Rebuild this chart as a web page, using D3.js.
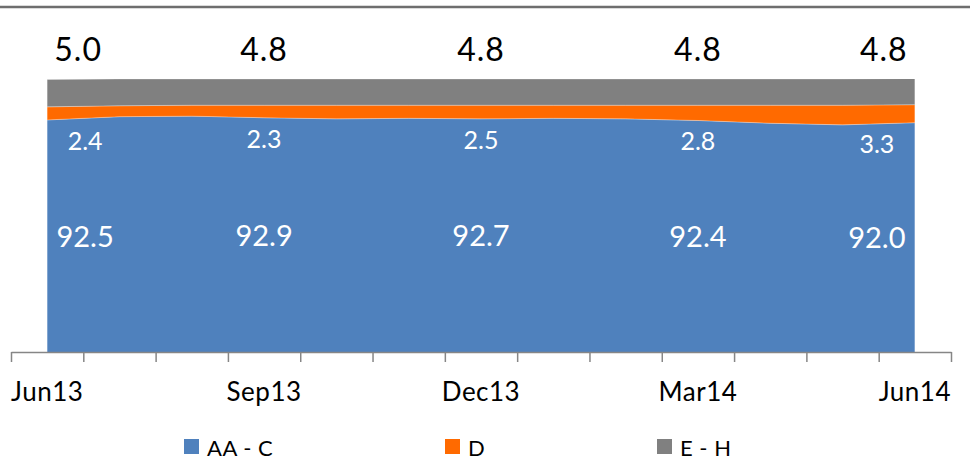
<!DOCTYPE html>
<html>
<head>
<meta charset="utf-8">
<script src="https://cdn.jsdelivr.net/npm/d3@7"></script>
<style>
  body { margin: 0; background: #fff; }
  svg { display: block; font-family: Lato, "Open Sans", sans-serif; }
</style>
</head>
<body>
<svg id="chart" width="970" height="469"></svg>
<script>
// monthly values (labels only shown each quarter)
const months = ["Jun13", "Jul13", "Aug13", "Sep13", "Oct13", "Nov13", "Dec13",
  "Jan14", "Feb14", "Mar14", "Apr14", "May14", "Jun14"];
const aaC = [92.5, 93.1, 93.2, 92.9, 92.7, 92.8, 92.7, 92.8, 92.7, 92.4, 91.9, 91.6, 92.0];
const gradeD = [2.4, 2.0, 2.0, 2.3, 2.5, 2.4, 2.5, 2.4, 2.5, 2.8, 3.3, 3.6, 3.3];
const eH = [5.0, 4.9, 4.8, 4.8, 4.8, 4.8, 4.8, 4.8, 4.8, 4.8, 4.8, 4.8, 4.8];
const tickLabels = ["Jun13", "Sep13", "Dec13", "Mar14", "Jun14"];
const seriesNames = ["AA - C", "D", "E - H"];
const colors = ["#4f81bd", "#ff6a00", "#808080"];

const svg = d3.select("#chart");

const plotLeft = 11, plotRight = 951, plotTop = 79, plotBottom = 352;

var x = d3.scaleBand().domain(months).range([plotLeft, plotRight]).paddingInner(0).paddingOuter(0);
var cx = function (m) { return x(m) + x.bandwidth() / 2; };
var y = d3.scaleLinear().domain([50, 100]).range([plotBottom, plotTop]);

// top rule
svg.append("line")
  .attr("x1", 0).attr("x2", 970)
  .attr("y1", 7).attr("y2", 7)
  .attr("stroke", "#6e6e6e")
  .attr("stroke-width", 2.5);

const table = months.map(function (m, i) {
  return { month: m, "AA - C": aaC[i], "D": gradeD[i], "E - H": eH[i] };
});

var stack = d3.stack().keys(seriesNames);
var layers = stack(table);

svg.append("clipPath").attr("id", "plot")
  .append("rect")
  .attr("x", 0).attr("y", plotTop)
  .attr("width", 970).attr("height", plotBottom - plotTop);

var area = d3.area()
  .x(function (d) { return cx(d.data.month); })
  .y0(function (d) { return y(d[0]); })
  .y1(function (d) { return y(d[1]); });

svg.append("g")
  .attr("clip-path", "url(#plot)")
  .selectAll("path")
  .data(layers)
  .enter()
  .append("path")
  .attr("d", area)
  .attr("fill", function (d, i) { return colors[i]; })
  .attr("stroke", "rgba(255,255,255,0.35)")
  .attr("stroke-width", 0.8);

//------- X AXIS -------
var edge = d3.scaleLinear().domain([0, months.length]).range([plotLeft, plotRight]);

var axisG = svg.append("g")
  .attr("transform", "translate(0," + plotBottom + ")")
  .call(d3.axisBottom(edge)
    .tickValues(d3.range(months.length + 1))
    .tickFormat("")
    .tickSize(10)
    .tickSizeOuter(0));
axisG.select(".domain").attr("stroke", "#868686").attr("stroke-width", 1.5);
axisG.selectAll(".tick line").attr("stroke", "#868686").attr("stroke-width", 1.5);

var labelG = svg.append("g")
  .attr("transform", "translate(0," + plotBottom + ")")
  .call(d3.axisBottom(x).tickValues(tickLabels).tickSize(0).tickPadding(0));
labelG.select(".domain").remove();
labelG.selectAll("text")
  .attr("y", 49)
  .attr("dy", 0)
  .attr("fill", "#000")
  .style("font-family", "Lato, 'Open Sans', sans-serif")
  .style("font-size", "26px")
  .style("letter-spacing", "0.5px");

//------- DATA LABELS -------
const x0 = cx(months[0]), x1 = cx(months[months.length - 1]);

function place(sel, w, pad) {
  sel.attr("x", function (d) {
    var c = cx(d.month);
    return Math.max(x0 + w / 2 + pad, Math.min(x1 - w / 2 - pad, c));
  });
}

var quarterly = table.filter(function (d) { return tickLabels.indexOf(d.month) >= 0; });

// E - H above the area
svg.append("g").selectAll("text")
  .data(quarterly).enter().append("text")
  .attr("text-anchor", "middle")
  .attr("y", 61)
  .attr("fill", "#000")
  .style("font-size", "32px")
  .style("letter-spacing", "1px")
  .text(function (d) { return d["E - H"].toFixed(1); })
  .call(place, 44, 9);

// D just below the orange band
svg.append("g").selectAll("text")
  .data(quarterly).enter().append("text")
  .attr("text-anchor", "middle")
  .attr("y", function (d) { return y(d["AA - C"]) + 30; })
  .attr("fill", "#fff")
  .style("font-size", "25px")
  .text(function (d) { return d["D"].toFixed(1); })
  .call(place, 36, 20);

// AA - C in the middle of the blue band
svg.append("g").selectAll("text")
  .data(quarterly).enter().append("text")
  .attr("text-anchor", "middle")
  .attr("y", function (d) { return (y(d["AA - C"]) + plotBottom) / 2 + 11; })
  .attr("fill", "#fff")
  .style("font-size", "29px")
  .text(function (d) { return d["AA - C"].toFixed(1); })
  .call(place, 54, 11);

//------- LEGEND -------
const legendX = [184, 445, 657];
var legend = svg.append("g").selectAll("g")
  .data(seriesNames).enter().append("g")
  .attr("transform", function (d, i) { return "translate(" + legendX[i] + ",439)"; });

legend.append("rect")
  .attr("width", 15).attr("height", 15)
  .attr("fill", function (d, i) { return colors[i]; });

legend.append("text")
  .attr("x", 23).attr("y", 17)
  .style("font-size", "22px")
  .style("letter-spacing", "0.5px")
  .attr("fill", "#000")
  .text(function (d) { return d; });
</script>
</body>
</html>
